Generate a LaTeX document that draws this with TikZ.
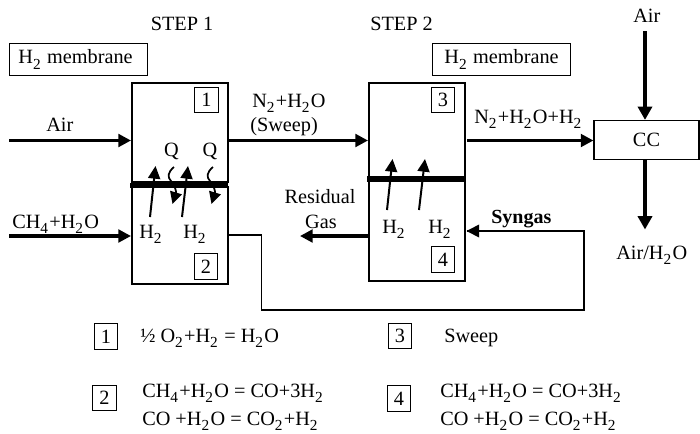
\documentclass[tikz,border=0pt]{standalone}
\usepackage{fontspec}
\setmainfont{Liberation Serif}
\usetikzlibrary{arrows.meta}
\newcommand{\sub}[1]{\raisebox{-4pt}{\fontsize{11.5pt}{11.5pt}\selectfont #1}\kern1pt\relax}
\tikzset{
  x=0.75pt,y=-0.75pt,
  txt/.style={font=\fontsize{15.2pt}{18pt}\selectfont,inner sep=0pt},
  lft/.style={txt,anchor=base west},
  mid/.style={txt,anchor=base},
  labelbox/.style={draw,line width=0.85pt,txt,minimum width=104pt,minimum height=24.3pt},
  tagbox/.style={draw,line width=0.8pt,txt,minimum width=17.5pt,minimum height=19.2pt},
  wall/.style={draw,line width=1.5pt,fill=white,inner sep=0pt,minimum width=72pt,anchor=north west},
  flow/.style={line width=2.3pt,-{Triangle[length=9.5pt,width=9.5pt]}},
  bigflow/.style={line width=2.8pt,-{Triangle[length=10pt,width=10.5pt]}},
  pipe/.style={line width=1.3pt,line join=miter},
  pipetip/.style={line width=1.3pt,-{Triangle[length=9.5pt,width=9.5pt]}},
  membrane/.style={line width=4pt},
  permeate/.style={line width=1.5pt,-{Triangle[length=9.5pt,width=9pt]}},
  heat/.style={line width=1.3pt,-{Triangle[length=9pt,width=9pt]}}
}
\begin{document}
\begin{tikzpicture}
\useasboundingbox (0,0) rectangle (700,433);
% reactors
\node[wall,minimum height=74.25pt] (r1) at (131,82) {};
\node[wall,minimum height=72.75pt] (r2) at (131,186) {};
\node[wall,minimum height=148.5pt] (r34) at (368,82) {};
\coordinate (m1a) at (130,185.5); \coordinate (m1b) at (228,185.5);
\coordinate (m2a) at (367,179); \coordinate (m2b) at (465,179);
\draw[membrane] (m1a) -- (m1b);
\draw[membrane,line width=5pt] (m2a) -- (m2b);
% titles
\node[mid] (s1) at (182,30) {STEP 1};
\node[mid] (s2) at (401.5,30) {STEP 2};
\node[labelbox] (hm1) at (78.5,59.5) {H\sub{2} membrane\kern4.5pt\relax};
\node[labelbox] (hm2) at (501.5,59.5) {H\sub{2} membrane};
% tags in reactors
\node[tagbox] (t1) at (206.5,100) {1};
\node[tagbox] (t2) at (206,266.5) {2};
\node[tagbox] (t3) at (443,100) {3};
\node[tagbox] (t4) at (443,259.5) {4};
% CC
\node[draw,line width=0.85pt,minimum width=78.75pt,minimum height=29pt,txt] (cc) at (646.5,139.8) {CC};
% inflows step 1
\coordinate (airS) at (9,140.5);
\node[lft] (airL) at (46,131) {Air};
\draw[flow] (airS) -- (r1.west |- airS);
\coordinate (chS) at (9,236);
\node[lft] (chL) at (12,228) {CH\sub{4}+H\sub{2}O};
\draw[flow] (chS) -- (r2.west |- chS);
% sweep
\coordinate (swS) at (229,140.5);
\node[lft] (swL) at (252,107) {N\sub{2}+H\sub{2}O};
\node[lft] (swL2) at (250,131) {(Sweep)};
\draw[flow] (swS) -- (r34.west |- swS);
% outlet to CC
\coordinate (exS) at (467,140.5);
\node[lft] (exL) at (474,123) {N\sub{2}+H\sub{2}O+H\sub{2}};
\draw[flow] (exS) -- (cc.west |- exS);
% CC air
\node[lft] (airT) at (633,22) {Air};
\coordinate (airIn) at (645,31);
\coordinate (airOut) at (645,229.5);
\draw[bigflow] (airIn) -- (airIn |- cc.north);
\node[lft] (airB) at (616,259) {Air/H\sub{2}O};
\draw[bigflow] (airOut |- cc.south) -- (airOut);
% residual gas
\coordinate (resE) at (300,236);
\node[mid] (resL) at (320,203) {Residual};
\node[mid] (resL2) at (321,228) {Gas};
\draw[flow] (r34.west |- resE) -- (resE);
% syngas loop
\coordinate (c1) at (229,234.7);
\coordinate (c2) at (261.5,234.7);
\coordinate (c3) at (261.5,310);
\coordinate (c4) at (584,310);
\coordinate (c5) at (584,231);
\coordinate (c6) at (466.5,231);
\draw[pipe] (c1) -- (c2) -- (c3) -- (c4) -- (c5) -- (c6);
\draw[pipetip] (c5) -- (c6);
\node[lft,font=\bfseries\fontsize{15pt}{18pt}\selectfont] (syn) at (491,223) {Syngas};
% permeate arrows step 1
\coordinate (pa) at (150,217); \coordinate (pb) at (155.5,166);
\coordinate (pc) at (182,217); \coordinate (pd) at (188,166);
\draw[permeate] (pa) -- (pb);
\draw[permeate] (pc) -- (pd);
\node[lft] (h1) at (139,238) {H\sub{2}};
\node[lft] (h2) at (183,238) {H\sub{2}};
\node[mid] (q1) at (171.5,156) {Q};
\node[mid] (q2) at (210,156) {Q};
\coordinate (qa) at (174,167); \coordinate (qb) at (172.5,204);
\coordinate (qc) at (213,167); \coordinate (qd) at (211.5,204);
\draw[heat] (qa) .. controls (168,172) and (167,177) .. (171,181) .. controls (174.5,185) and (176.5,191) .. (qb);
\draw[heat] (qc) .. controls (207,172) and (206,177) .. (210,181) .. controls (213.5,185) and (215.5,191) .. (qd);
% permeate arrows step 2
\coordinate (pe) at (387,210); \coordinate (pf) at (392.5,159);
\coordinate (pg) at (419,210); \coordinate (ph) at (425,159);
\draw[permeate] (pe) -- (pf);
\draw[permeate] (pg) -- (ph);
\node[lft] (h3) at (382,233) {H\sub{2}};
\node[lft] (h4) at (428,233) {H\sub{2}};
% reactions
\node[tagbox] (k1) at (106,336.7) {1};
\node[lft] (e1) at (140,342) {½ O\sub{2}+H\sub{2} = H\sub{2}O};
\node[tagbox] (k3) at (400,336) {3};
\node[lft] (e3) at (444,342) {Sweep};
\node[tagbox] (k2) at (104.5,398) {2};
\node[lft] (e2a) at (142,397) {CH\sub{4}+H\sub{2}O = CO+3H\sub{2}};
\node[lft] (e2b) at (142,425) {CO +H\sub{2}O = CO\sub{2}+H\sub{2}};
\node[tagbox] (k4) at (399,398.5) {4};
\node[lft] (e4a) at (440,397) {CH\sub{4}+H\sub{2}O = CO+3H\sub{2}};
\node[lft] (e4b) at (440,425) {CO +H\sub{2}O = CO\sub{2}+H\sub{2}};
\end{tikzpicture}
\end{document}
